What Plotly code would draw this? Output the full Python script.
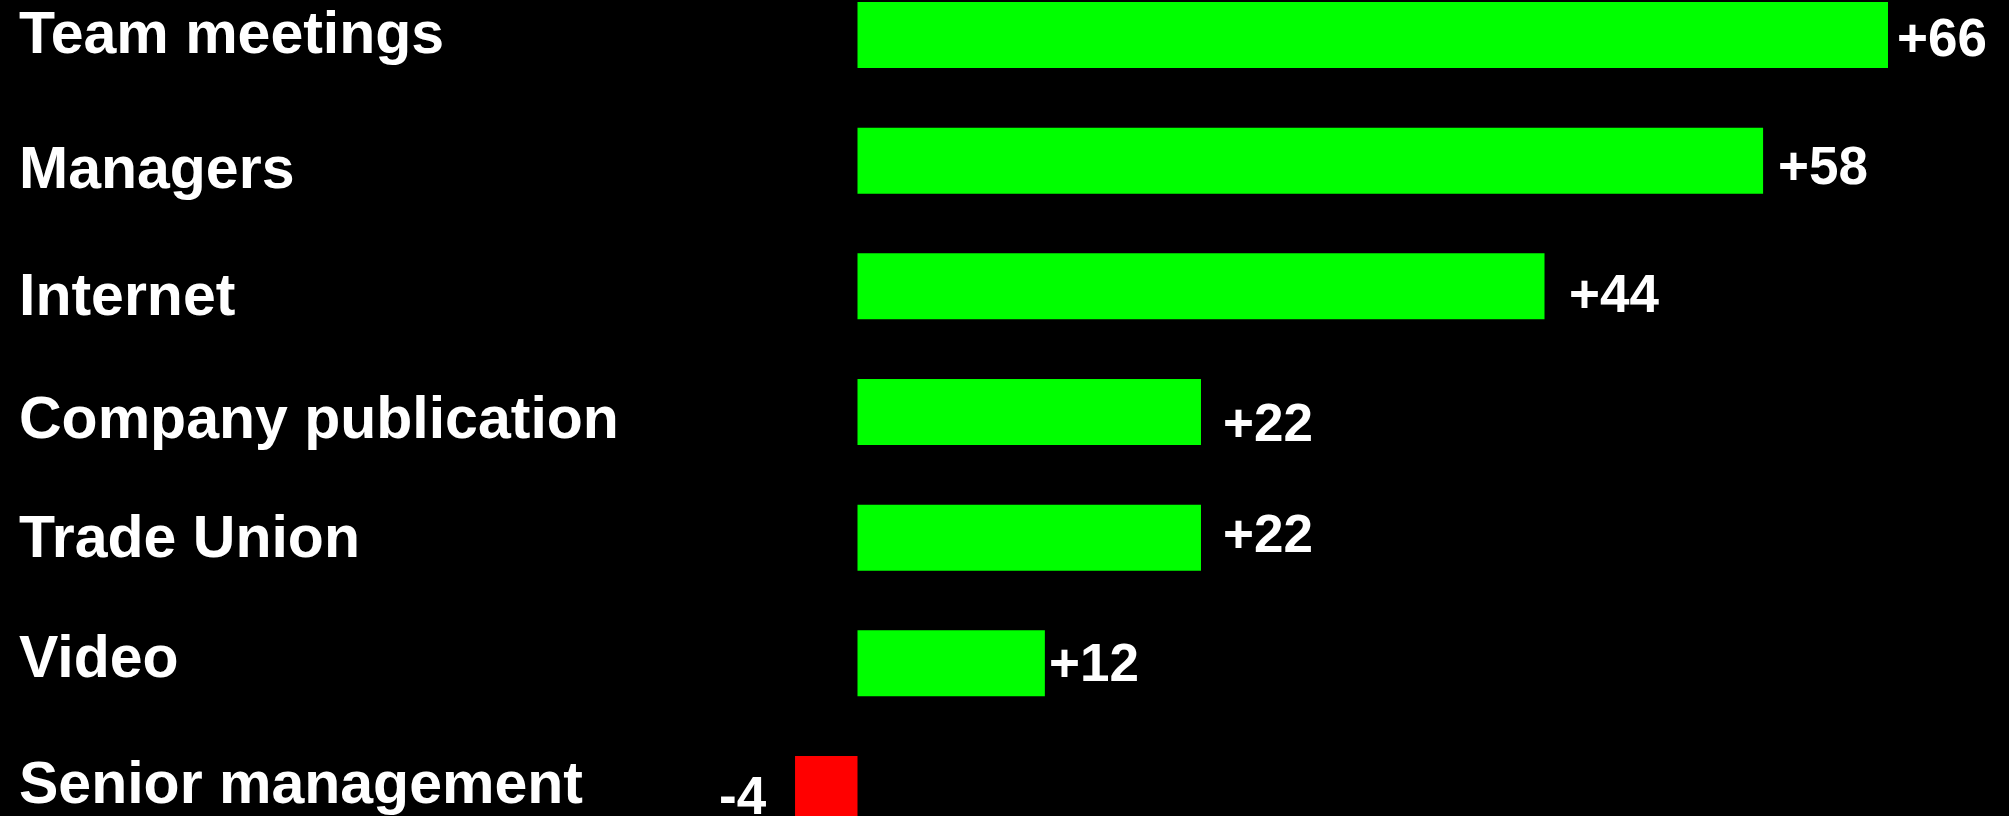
import plotly.graph_objects as go

# Net score per communication channel (top to bottom)
channels = [
    "Team meetings",
    "Managers",
    "Internet",
    "Company publication",
    "Trade Union",
    "Video",
    "Senior management",
]
net_scores = [66, 58, 44, 22, 22, 12, -4]

# Per-label nudges in pixels (dx away from bar end, dy downward)
value_gap = [7, 13, 22, 20, 20, 2, 26]
value_dy = [2, 5, 7, 10, -4, -1, 6]
name_dy = [-2, 7, 9, 6, -1, -6, -6]

GREEN = "#00FF00"
RED = "#FF0000"
FONT = "Liberation Sans, Arial, sans-serif"

bar_colors = [GREEN if v >= 0 else RED for v in net_scores]

fig = go.Figure(
    go.Bar(
        x=net_scores,
        y=channels,
        orientation="h",
        marker=dict(color=bar_colors, line=dict(width=0)),
        width=0.525,
        hoverinfo="skip",
    )
)

annotations = []
for name, v, gap, vdy, ndy in zip(channels, net_scores, value_gap, value_dy, name_dy):
    label = f"+{v}" if v > 0 else f"{v}"
    annotations.append(
        dict(
            x=v,
            y=name,
            xref="x",
            yref="y",
            text=label,
            showarrow=False,
            xanchor="left" if v >= 0 else "right",
            yanchor="middle",
            xshift=gap if v >= 0 else -gap,
            yshift=-vdy,
            font=dict(family=FONT, size=53, color="white", weight="bold"),
        )
    )
    annotations.append(
        dict(
            x=17 / 2009,
            y=name,
            xref="paper",
            yref="y",
            text=name,
            showarrow=False,
            xanchor="left",
            yanchor="middle",
            yshift=-ndy,
            font=dict(family=FONT, size=59, color="white", weight="bold"),
        )
    )

fig.update_layout(
    width=2009,
    height=816,
    margin=dict(l=0, r=0, t=0, b=0),
    paper_bgcolor="black",
    plot_bgcolor="black",
    showlegend=False,
    annotations=annotations,
    xaxis=dict(
        range=[-54.92, 73.75],
        showgrid=False,
        zeroline=False,
        showticklabels=False,
        showline=False,
        fixedrange=True,
    ),
    yaxis=dict(
        type="category",
        categoryorder="array",
        categoryarray=channels,
        range=[6.2147, -0.2785],
        showgrid=False,
        zeroline=False,
        showticklabels=False,
        showline=False,
        fixedrange=True,
    ),
)

fig.write_html("out.html", config={"displayModeBar": False})
